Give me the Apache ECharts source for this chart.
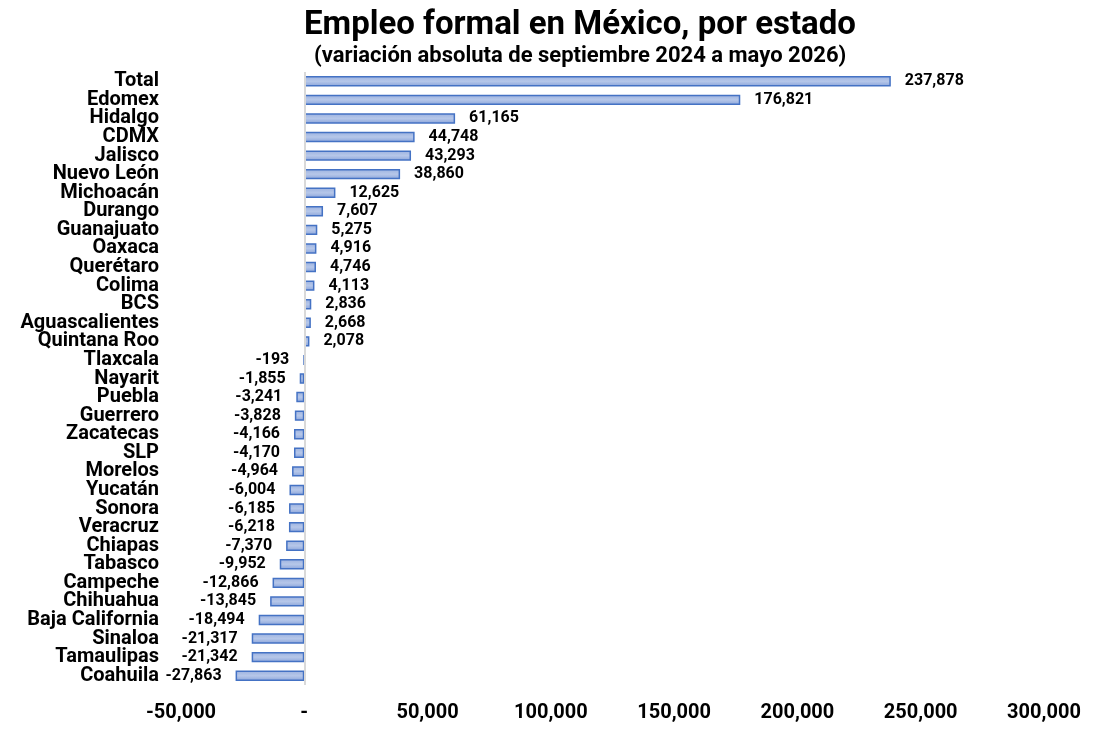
<!DOCTYPE html>
<html>
<head>
<meta charset="utf-8">
<script src="https://cdn.jsdelivr.net/npm/echarts@6/dist/echarts.min.js"></script>
<style>
  html, body { margin: 0; padding: 0; background: #fff; }
  #main { width: 1099px; height: 736px; }
</style>
</head>
<body>
<div id="main"></div>
<script>
const estados = [
  'Total', 'Edomex', 'Hidalgo', 'CDMX', 'Jalisco', 'Nuevo León', 'Michoacán',
  'Durango', 'Guanajuato', 'Oaxaca', 'Querétaro', 'Colima', 'BCS',
  'Aguascalientes', 'Quintana Roo', 'Tlaxcala', 'Nayarit', 'Puebla',
  'Guerrero', 'Zacatecas', 'SLP', 'Morelos', 'Yucatán', 'Sonora', 'Veracruz',
  'Chiapas', 'Tabasco', 'Campeche', 'Chihuahua', 'Baja California',
  'Sinaloa', 'Tamaulipas', 'Coahuila'
];
const variacion = [
  237878, 176821, 61165, 44748, 43293, 38860, 12625,
  7607, 5275, 4916, 4746, 4113, 2836,
  2668, 2078, -193, -1855, -3241,
  -3828, -4166, -4170, -4964, -6004, -6185, -6218,
  -7370, -9952, -12866, -13845, -18494,
  -21317, -21342, -27863
];
const ejeMin = -50000;
const ejeMax = 300000;
const ejePaso = 50000;

const fmt = v => v === 0 ? '-' : v.toLocaleString('en-US');
const font = 'Roboto, "DejaVu Sans", sans-serif';

const chart = echarts.init(document.getElementById('main'));

const barFill = new echarts.graphic.LinearGradient(0, 0, 0, 1, [
  { offset: 0, color: '#9bb1df' },
  { offset: 0.5, color: '#b6c7e9' },
  { offset: 1, color: '#8aa4da' }
]);

const datos = variacion.map(v => ({
  value: v,
  label: { position: v < 0 ? 'left' : 'right' }
}));

const option = {
  backgroundColor: '#fff',
  animation: false,
  graphic: [
    {
      type: 'text', left: 304, top: 9,
      style: { text: 'Empleo formal en México, por estado', font: 'bold 33px ' + font, fill: '#000' }
    },
    {
      type: 'text', left: 314, top: 45,
      style: { text: '(variación absoluta de septiembre 2024 a mayo 2026)', font: 'bold 22px ' + font, fill: '#000' }
    }
  ],
  grid: { left: 181, right: 55, top: 72, bottom: 51, containLabel: false },
  xAxis: {
    type: 'value',
    min: ejeMin,
    max: ejeMax,
    interval: ejePaso,
    splitLine: { show: false },
    axisLine: { show: false },
    axisTick: { show: false },
    axisLabel: {
      margin: 18,
      fontFamily: font,
      fontWeight: 'bold',
      fontSize: 20,
      color: '#000',
      formatter: fmt
    }
  },
  yAxis: {
    type: 'category',
    data: estados,
    inverse: true,
    axisLine: { show: false },
    axisTick: { show: false },
    axisLabel: {
      interval: 0,
      margin: 22,
      fontFamily: font,
      fontWeight: 'bold',
      fontSize: 20,
      color: '#000'
    }
  },
  series: [{
    type: 'bar',
    data: datos,
    barWidth: '56%',
    itemStyle: { color: barFill, borderColor: '#4472c4', borderWidth: 1.5 },
    label: {
      show: true,
      distance: 14,
      fontFamily: font,
      fontWeight: 'bold',
      fontSize: 16,
      color: '#000',
      formatter: p => fmt(p.value)
    },
    markLine: {
      silent: true,
      symbol: 'none',
      label: { show: false },
      lineStyle: { color: '#d9d9d9', width: 2, type: 'solid' },
      data: [{ xAxis: 0 }]
    }
  }]
};

chart.setOption(option);
</script>
</body>
</html>
